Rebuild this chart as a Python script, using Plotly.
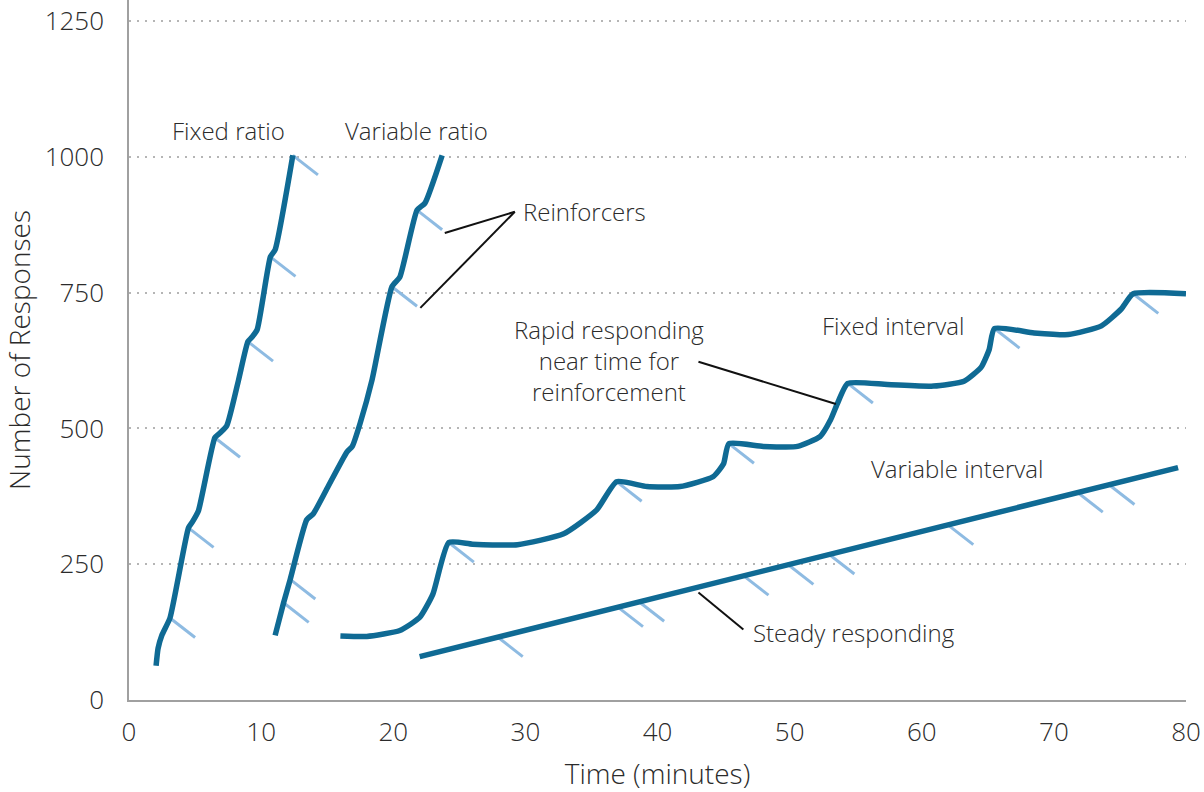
import plotly.graph_objects as go

# cumulative response records (time in minutes, responses)
fr_time = [2.05, 2.2, 2.5, 3.1, 4.5, 4.8, 5.25, 6.5, 6.9, 7.4, 8.3, 9.0, 9.3, 9.7, 10.7, 11.06, 12.4]
fr_resp = [63, 95, 120, 151, 317, 328, 348, 483, 492, 505, 590, 660, 668, 682, 816, 829, 1003]

vr_time = [11.06, 11.7, 12.2, 13.45, 13.95, 15.0, 16.5, 16.9, 17.5, 18.4, 19.9, 20.5, 21.8, 22.4, 23.7]
vr_resp = [119, 179, 222, 332, 343, 390, 457, 467, 510, 590, 761, 779, 902, 915, 1003]

fi_time = [16.0, 18.0, 20.5, 22.0, 23.0, 24.2, 26.0, 29.4, 32.9, 35.4, 36.9, 39.2, 41.7, 44.2, 45.0, 45.4,
           48.0, 50.6, 52.3, 53.1, 53.6, 54.4, 57.4, 60.9, 63.2, 64.5, 65.1, 65.5, 68.5, 71.1, 73.6, 75.1,
           76.0, 80.0]
fi_resp = [118, 117, 128, 152, 195, 290, 287, 286, 306, 350, 402, 393, 393, 411, 435, 472,
           467, 467, 485, 516, 545, 583, 581, 578, 587, 613, 645, 684, 676, 673, 689, 720,
           748, 748]

vi_time = [22.0, 79.4]
vi_resp = [80, 428]

# reinforcer deliveries
fr_rf_time = [3.1, 4.5, 6.5, 9.0, 10.7, 12.4]
fr_rf_resp = [151, 317, 483, 660, 816, 1003]
vr_rf_time = [11.7, 12.2, 19.9, 21.8]
vr_rf_resp = [179, 222, 761, 902]
fi_rf_time = [24.2, 36.9, 45.4, 54.4, 65.5, 76.0]
fi_rf_resp = [290, 402, 472, 583, 684, 748]
vi_rf_time = [27.9, 37.0, 38.6, 46.5, 49.9, 53.0, 62.0, 71.8, 74.2]
vi_rf_resp = [116, 171, 181, 229, 249, 268, 322, 382, 396]

y_ticks = [0, 250, 500, 750, 1000, 1250]
x_ticks = [0, 10, 20, 30, 40, 50, 60, 70, 80]

MAIN = "#0f6a94"
MARK = "#8ebbe2"
TEXT = "#2b2b2b"
FONT = "Open Sans"
TICK_DX, TICK_DY = 1.9, -36

fig = go.Figure()

# reinforcer hash marks
tx, ty = [], []
for xs, ys in [(fr_rf_time, fr_rf_resp), (vr_rf_time, vr_rf_resp),
               (fi_rf_time, fi_rf_resp), (vi_rf_time, vi_rf_resp)]:
    for x, y in zip(xs, ys):
        tx += [x, x + TICK_DX, None]
        ty += [y, y + TICK_DY, None]
fig.add_trace(go.Scatter(x=tx, y=ty, mode="lines", line=dict(color=MARK, width=3),
                         hoverinfo="skip", showlegend=False))

for name, xs, ys, shape in [("Fixed ratio", fr_time, fr_resp, "spline"),
                            ("Variable ratio", vr_time, vr_resp, "spline"),
                            ("Fixed interval", fi_time, fi_resp, "spline"),
                            ("Variable interval", vi_time, vi_resp, "linear")]:
    fig.add_trace(go.Scatter(x=xs, y=ys, mode="lines", name=name,
                             line=dict(color=MAIN, width=5.5, shape=shape, smoothing=0.5),
                             cliponaxis=False, showlegend=False))

# leader lines
for x0, y0, x1, y1 in [(29.2, 899, 23.9, 860), (29.2, 899, 22.05, 722),
                       (43.1, 623, 53.5, 545), (43.1, 198, 46.5, 130)]:
    fig.add_shape(type="line", x0=x0, y0=y0, x1=x1, y1=y1,
                  line=dict(color="#111111", width=2))

labels = [
    ("Fixed ratio", 7.5, 1049, "center"),
    ("Variable ratio", 21.74, 1049, "center"),
    ("Reinforcers", 29.7, 900, "left"),
    ("Rapid responding<br>near time for<br>reinforcement", 36.3, 626, "center"),
    ("Fixed interval", 57.8, 689, "center"),
    ("Variable interval", 62.7, 426, "center"),
    ("Steady responding", 47.1, 124, "left"),
]
for text, x, y, anchor in labels:
    fig.add_annotation(x=x, y=y, text=text, showarrow=False, xanchor=anchor, yanchor="middle",
                       align="center", font=dict(family=FONT, size=24, color=TEXT, weight=300))

fig.update_layout(
    width=1204,
    height=792,
    paper_bgcolor="white",
    plot_bgcolor="white",
    margin=dict(l=129, r=18, t=0, b=92, autoexpand=False),
    font=dict(family=FONT, size=23, color=TEXT, weight=300),
    xaxis=dict(
        range=[0, 80],
        tickvals=x_ticks,
        tickfont=dict(size=26),
        ticklabeloverflow="allow",
        automargin=False,
        showgrid=False,
        zeroline=False,
        showline=True,
        linecolor="#a0a0a0",
        linewidth=1.5,
        ticks="",
        ticklabelstandoff=8,
        title=dict(text="Time (minutes)", standoff=16),
    ),
    yaxis=dict(
        range=[0, 1289],
        tickvals=y_ticks,
        tickfont=dict(size=26),
        ticklabeloverflow="allow",
        automargin=False,
        showgrid=True,
        gridcolor="#b5b5b5",
        gridwidth=2,
        griddash="2px,6px",
        zeroline=False,
        showline=True,
        linecolor="#a0a0a0",
        linewidth=1.5,
        ticks="",
        ticklabelstandoff=18,
        title=dict(text="Number of Responses", standoff=9),
    ),
)

# drop the page's default body margin so the figure fills the window
fig.write_html("out.html", config={"displayModeBar": False},
               post_script="document.body.style.margin = '0';")
